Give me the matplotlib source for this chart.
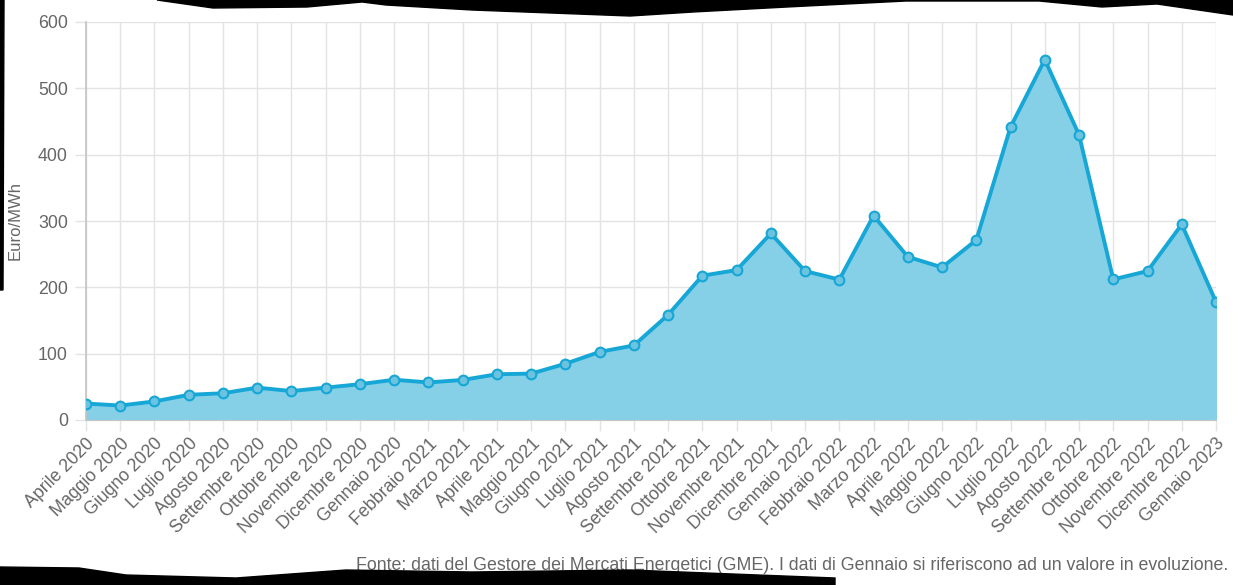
import matplotlib.pyplot as plt
from matplotlib.patches import Polygon

plt.rcParams['font.family'] = ['Liberation Sans', 'DejaVu Sans']

# Dati PUN mensile (Euro/MWh)
mesi = ['Aprile 2020', 'Maggio 2020', 'Giugno 2020', 'Luglio 2020', 'Agosto 2020',
        'Settembre 2020', 'Ottobre 2020', 'Novembre 2020', 'Dicembre 2020',
        'Gennaio 2020', 'Febbraio 2021', 'Marzo 2021', 'Aprile 2021', 'Maggio 2021',
        'Giugno 2021', 'Luglio 2021', 'Agosto 2021', 'Settembre 2021', 'Ottobre 2021',
        'Novembre 2021', 'Dicembre 2021', 'Gennaio 2022', 'Febbraio 2022', 'Marzo 2022',
        'Aprile 2022', 'Maggio 2022', 'Giugno 2022', 'Luglio 2022', 'Agosto 2022',
        'Settembre 2022', 'Ottobre 2022', 'Novembre 2022', 'Dicembre 2022', 'Gennaio 2023']
prezzi = [24.8, 21.8, 28.0, 38.0, 40.3, 48.8, 43.6, 48.8, 54.0, 60.7, 56.6, 60.4,
          69.0, 69.9, 84.8, 102.7, 112.4, 158.6, 217.6, 226.0, 281.2, 224.5, 211.7,
          308.1, 246.0, 230.1, 271.3, 441.7, 543.2, 429.9, 212.0, 224.5, 294.9, 178.0]
y_ticks = [0, 100, 200, 300, 400, 500, 600]

nota = ("Fonte: dati del Gestore dei Mercati Energetici (GME). "
        "I dati di Gennaio si riferiscono ad un valore in evoluzione.")

linea = '#17a7d6'
riempimento = '#86d0e7'
grigio = '#666666'

W, H = 1233, 585
fig = plt.figure(figsize=(W / 100, H / 100), dpi=100)
ax = fig.add_axes([86 / W, 1 - 420 / H, 1130 / W, 398 / H])

x = list(range(len(mesi)))
ax.fill_between(x, prezzi, 0, color=riempimento, zorder=2)
ax.plot(x, prezzi, color=linea, lw=2.8, zorder=3,
        marker='o', ms=7, mfc='#6cc3e0', mec=linea, mew=1.5)

ax.set_xlim(0, len(mesi) - 1)
ax.set_ylim(0, 600)
ax.set_yticks(y_ticks)
ax.set_xticks(x)
ax.set_xticklabels(mesi, rotation=45, ha='right', rotation_mode='anchor')

ax.grid(True, color='#e3e3e3', lw=1, zorder=0)
for s in ['top', 'right']:
    ax.spines[s].set_visible(False)
ax.spines['left'].set_color('#c4c4c4')
ax.spines['bottom'].set_color('#c4c4c4')
ax.spines['left'].set_linewidth(1.2)
ax.tick_params(axis='both', colors='#e3e3e3', labelcolor=grigio,
               labelsize=12.8, length=8, width=1)
ax.tick_params(axis='x', pad=3)
ax.tick_params(axis='y', pad=5)

ax.set_ylabel('Euro/MWh', color=grigio, fontsize=12, labelpad=11)

fig.text(1228 / W, 1 - 565 / H, nota, ha='right', va='center',
         color=grigio, fontsize=12.8)

# bordi strappati dello screenshot (pixel -> frazione della figura)
top_px = [(157, 0), (213, 8), (307, 7), (362, 2), (386, 5), (472, 10), (551, 13),
          (630, 16), (693, 12), (787, 7), (906, 1), (1039, 1), (1102, 7), (1157, 4),
          (1233, 15), (1233, 0)]
bottom_px = [(0, 585), (0, 567), (79, 568), (126, 575), (236, 578), (346, 570),
             (472, 572), (630, 570), (835, 578), (835, 585)]
left_px = [(0, 0), (4, 0), (3, 290), (0, 290)]
for pts in [top_px, bottom_px, left_px]:
    fig.patches.append(Polygon([(px / W, 1 - py / H) for px, py in pts], closed=True,
                               transform=fig.transFigure, color='black', zorder=10))

fig.savefig('out.png', dpi=100)
